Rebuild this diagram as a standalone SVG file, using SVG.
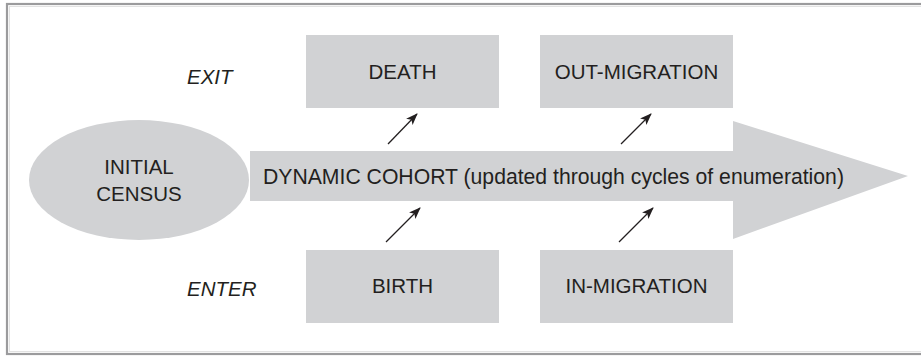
<svg xmlns="http://www.w3.org/2000/svg" width="921" height="358" viewBox="0 0 921 358">
  <style>
    .shape { fill: #d1d2d4; }
    .lbl { font-family: "Liberation Sans", Arial, sans-serif; font-size: 20.5px; fill: #231f20; text-anchor: middle; }
    .side { font-family: "Liberation Sans", Arial, sans-serif; font-size: 20.5px; font-style: italic; fill: #231f20; }
    .conn { stroke: #231f20; stroke-width: 1.3; fill: none; marker-end: url(#ah); }
  </style>
  <defs>
    <marker id="ah" viewBox="0 0 12 10" refX="11" refY="5" markerWidth="12" markerHeight="10" markerUnits="userSpaceOnUse" orient="auto">
      <path d="M0,0.5 L12,5 L0,9.5 L3,5 Z" fill="#231f20"/>
    </marker>
  </defs>
  <rect x="0" y="0" width="921" height="358" fill="#ffffff"/>
  <g id="frame">
    <rect x="7" y="4" width="930" height="350" fill="none" stroke="#9b9b9d" stroke-width="2.2"/>
    <rect x="9.5" y="6.5" width="930" height="345" fill="none" stroke="#e2e2e2" stroke-width="1"/>
  </g>
  <g id="cohort">
    <path class="shape" d="M250,151 L733,151 L733,121 L908,176 L733,239 L733,201 L250,201 Z"/>
    <text class="lbl" x="263" y="184" style="text-anchor:start; font-size:21.2px">DYNAMIC COHORT (updated through cycles of enumeration)</text>
  </g>
  <g id="initial-census">
    <ellipse class="shape" cx="139" cy="180" rx="110" ry="60"/>
    <text class="lbl" x="139" y="174">INITIAL</text>
    <text class="lbl" x="139" y="201">CENSUS</text>
  </g>
  <g id="exit-label">
    <text class="side" x="187" y="84">EXIT</text>
  </g>
  <g id="enter-label">
    <text class="side" x="187" y="296">ENTER</text>
  </g>
  <g id="death">
    <rect class="shape" x="306" y="35" width="193" height="73"/>
    <text class="lbl" x="402.5" y="79">DEATH</text>
  </g>
  <g id="out-migration">
    <rect class="shape" x="540" y="35" width="193" height="73"/>
    <text class="lbl" x="636.5" y="79">OUT-MIGRATION</text>
  </g>
  <g id="birth">
    <rect class="shape" x="306" y="250" width="193" height="73"/>
    <text class="lbl" x="402.5" y="293">BIRTH</text>
  </g>
  <g id="in-migration">
    <rect class="shape" x="540" y="250" width="193" height="73"/>
    <text class="lbl" x="636.5" y="293">IN-MIGRATION</text>
  </g>
  <g id="connectors">
    <line class="conn" x1="388" y1="144" x2="417" y2="114"/>
    <line class="conn" x1="621" y1="144" x2="651" y2="114"/>
    <line class="conn" x1="386" y1="242" x2="420" y2="208"/>
    <line class="conn" x1="619" y1="242" x2="653" y2="208"/>
  </g>
</svg>
